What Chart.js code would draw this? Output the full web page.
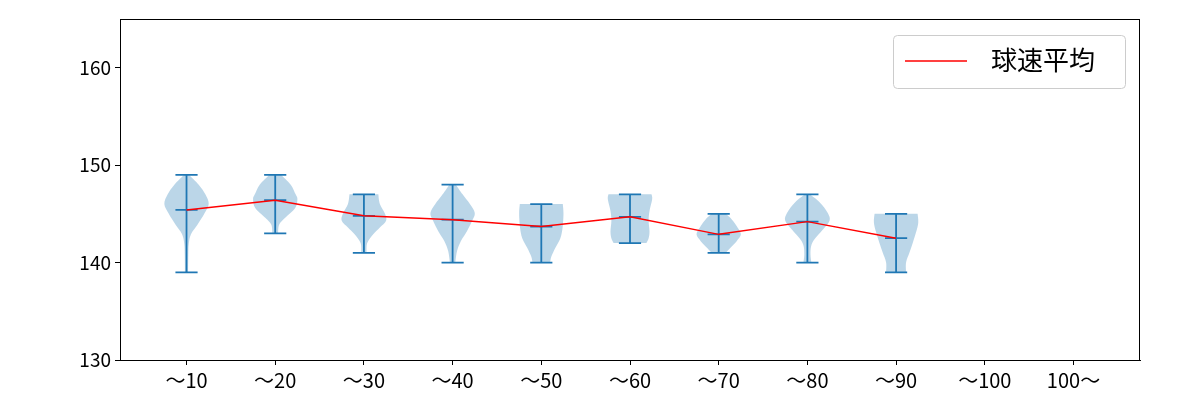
<!DOCTYPE html>
<html>
<head>
<meta charset="utf-8">
<script src="https://cdn.jsdelivr.net/npm/chart.js@4.4.1/dist/chart.umd.min.js"></script>
<style>
  html, body { margin: 0; padding: 0; background: #fff; }
  #wrap { width: 1200px; height: 400px; }
</style>
</head>
<body>
<div id="wrap"><canvas id="c" width="1200" height="400"></canvas></div>
<script>
// ---- data ----
const categories = ["～10", "～20", "～30", "～40", "～50", "～60", "～70", "～80", "～90", "～100", "100～"];
const meanSpeed = [145.4, 146.4, 144.8, 144.4, 143.7, 144.7, 142.9, 144.2, 142.5];
const minSpeed  = [139, 143, 141, 140, 140, 142, 141, 140, 139];
const maxSpeed  = [149, 149, 147, 148, 146, 147, 145, 147, 145];
// violin outlines: [speed, relative half-width]
const violinShapes = [
  [[139,0.07],[140.8,0.08],[141.9,0.1],[142.9,0.2],[143.9,0.5],[145.0,0.8],[146.0,1.0],[147.0,0.85],[148.0,0.55],[149,0.12]],
  [[143,0.13],[143.9,0.18],[144.6,0.45],[145.6,0.9],[146.5,1.0],[147.0,0.92],[148.0,0.7],[149,0.27]],
  [[141,0.12],[142.0,0.15],[142.9,0.42],[143.6,0.72],[144.3,1.0],[145.0,0.95],[146.0,0.72],[147,0.65]],
  [[140,0.12],[141.2,0.2],[142.2,0.37],[143.2,0.64],[144.3,0.88],[145.1,1.0],[146.0,0.78],[147.0,0.45],[148,0.15]],
  [[140,0.4],[140.6,0.45],[141.5,0.63],[142.5,0.86],[143.6,0.96],[145.0,1.0],[146,0.97]],
  [[142,0.74],[142.5,0.84],[143.2,0.88],[144.3,0.84],[145.3,0.88],[146.5,1.0],[147,0.97]],
  [[141,0.32],[141.5,0.52],[142.2,0.81],[142.9,1.0],[143.6,0.85],[144.4,0.6],[145,0.32]],
  [[140,0.18],[140.8,0.14],[141.7,0.17],[142.4,0.32],[143.4,0.7],[144.3,1.0],[145.1,0.92],[146.2,0.55],[147,0.1]],
  [[139,0.45],[140.0,0.45],[141.0,0.6],[142.0,0.75],[143.1,0.9],[144.1,1.0],[145,0.97]]
];
const yTicks = [130, 140, 150, 160];
const legendLabel = "球速平均";

const BLUE = "#1f77b4";
const FONT = "'Noto Sans CJK JP', 'Noto Sans', sans-serif";

function catmullPath(ctx, pts, moveFirst) {
  if (moveFirst) ctx.moveTo(pts[0].x, pts[0].y); else ctx.lineTo(pts[0].x, pts[0].y);
  for (let i = 0; i < pts.length - 1; i++) {
    const p0 = pts[Math.max(i - 1, 0)], p1 = pts[i], p2 = pts[i + 1], p3 = pts[Math.min(i + 2, pts.length - 1)];
    const c1x = p1.x + (p2.x - p0.x) / 6, c1y = p1.y + (p2.y - p0.y) / 6;
    const c2x = p2.x - (p3.x - p1.x) / 6, c2y = p2.y - (p3.y - p1.y) / 6;
    ctx.bezierCurveTo(c1x, c1y, c2x, c2y, p2.x, p2.y);
  }
}

const violinPlugin = {
  id: 'violins',
  beforeDatasetsDraw(chart) {
    const { ctx, scales: { x, y }, chartArea } = chart;
    ctx.save();
    ctx.beginPath();
    ctx.rect(chartArea.left, chartArea.top, chartArea.right - chartArea.left, chartArea.bottom - chartArea.top);
    ctx.clip();
    const halfW = 0.25;
    violinShapes.forEach((shape, i) => {
      const pos = i + 1;
      const right = shape.map(([v, w]) => ({ x: x.getPixelForValue(pos + w * halfW), y: y.getPixelForValue(v) }));
      const left = shape.map(([v, w]) => ({ x: x.getPixelForValue(pos - w * halfW), y: y.getPixelForValue(v) })).reverse();
      ctx.beginPath();
      catmullPath(ctx, right, true);
      catmullPath(ctx, left, false);
      ctx.closePath();
      ctx.fillStyle = "rgba(31,119,180,0.3)";
      ctx.fill();
    });
    // min/max/mean lines
    ctx.strokeStyle = BLUE;
    ctx.lineWidth = 1.8;
    const capW = 0.125;
    minSpeed.forEach((mn, i) => {
      const pos = i + 1;
      const xc = x.getPixelForValue(pos);
      const xl = x.getPixelForValue(pos - capW), xr = x.getPixelForValue(pos + capW);
      const yMin = y.getPixelForValue(mn), yMax = y.getPixelForValue(maxSpeed[i]), yMean = y.getPixelForValue(meanSpeed[i]);
      ctx.beginPath();
      ctx.moveTo(xc, yMin); ctx.lineTo(xc, yMax);
      [yMin, yMax, yMean].forEach(yy => { ctx.moveTo(xl, yy); ctx.lineTo(xr, yy); });
      ctx.stroke();
    });
    ctx.restore();
  },
  afterDraw(chart) {
    const { ctx, chartArea } = chart;
    ctx.save();
    // frame
    ctx.strokeStyle = "#000";
    ctx.lineWidth = 1;
    ctx.strokeRect(chartArea.left + 0.5, chartArea.top + 0.5, chartArea.right - chartArea.left - 1, chartArea.bottom - chartArea.top);
    // legend
    const bx = 893.5, by = 35.5, bw = 232, bh = 53, r = 4;
    ctx.beginPath();
    ctx.moveTo(bx + r, by);
    ctx.arcTo(bx + bw, by, bx + bw, by + bh, r);
    ctx.arcTo(bx + bw, by + bh, bx, by + bh, r);
    ctx.arcTo(bx, by + bh, bx, by, r);
    ctx.arcTo(bx, by, bx + bw, by, r);
    ctx.closePath();
    ctx.fillStyle = "rgba(255,255,255,0.8)";
    ctx.fill();
    ctx.strokeStyle = "#cccccc";
    ctx.stroke();
    ctx.strokeStyle = "red";
    ctx.lineWidth = 1.4;
    ctx.beginPath();
    ctx.moveTo(905, 61); ctx.lineTo(967, 61);
    ctx.stroke();
    ctx.fillStyle = "#000";
    ctx.font = "26px " + FONT;
    ctx.textBaseline = "middle";
    ctx.textAlign = "left";
    ctx.fillText(chart.data.datasets[0].label, 991, 60);
    ctx.restore();
  }
};

new Chart(document.getElementById('c'), {
  type: 'line',
  data: {
    datasets: [{
      label: legendLabel,
      data: meanSpeed.map((v, i) => ({ x: i + 1, y: v })),
      borderColor: 'red',
      borderWidth: 1.4,
      pointRadius: 0,
      fill: false,
      tension: 0
    }]
  },
  options: {
    responsive: false,
    animation: false,
    events: [],
    layout: { padding: { top: 19, right: 60, left: 0, bottom: 0 } },
    plugins: { legend: { display: false }, tooltip: { enabled: false } },
    scales: {
      x: {
        type: 'linear',
        min: 0.25, max: 11.75,
        afterBuildTicks(scale) { scale.ticks = categories.map((c, i) => ({ value: i + 1 })); },
        afterFit(scale) { scale.height = 40; },
        ticks: {
          callback: (v) => categories[Math.round(v) - 1],
          color: '#000',
          font: { family: FONT, size: 20 },
          padding: 3,
          maxRotation: 0,
          autoSkip: false
        },
        grid: { display: true, drawOnChartArea: false, drawTicks: true, tickLength: 5, color: '#000', lineWidth: 1 },
        border: { display: true, color: '#000', width: 1 }
      },
      y: {
        type: 'linear',
        min: 130, max: 165,
        afterBuildTicks(scale) { scale.ticks = yTicks.map(v => ({ value: v })); },
        afterFit(scale) { scale.width = 120; },
        ticks: {
          color: '#000',
          font: { family: FONT, size: 19 },
          padding: 4
        },
        grid: { display: true, drawOnChartArea: false, drawTicks: true, tickLength: 5, color: '#000', lineWidth: 1 },
        border: { display: true, color: '#000', width: 1 }
      }
    }
  },
  plugins: [violinPlugin]
});
</script>
</body>
</html>
